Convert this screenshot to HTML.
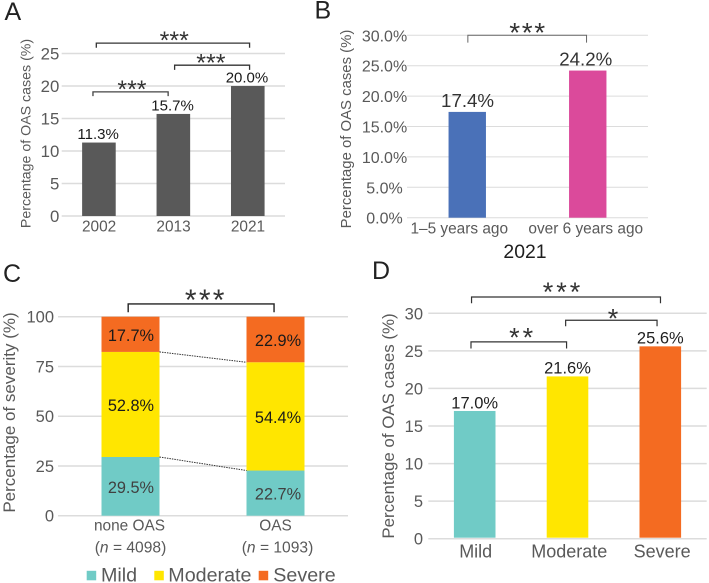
<!DOCTYPE html>
<html lang="en">
<head>
<meta charset="utf-8">
<title>OAS prevalence charts</title>
<style>
  html, body { margin: 0; padding: 0; background: #fff; }
  body { width: 709px; height: 583px; overflow: hidden; }
  svg { display: block; font-family: "Liberation Sans", Arial, sans-serif; filter: blur(0.3px); }
</style>
</head>
<body>
<svg id="fig" xmlns="http://www.w3.org/2000/svg" width="709" height="583" viewBox="0 0 709 583"></svg>
<script>
// Panel A data
const aCategories = ['2002', '2013', '2021'];
const aValues = [11.3, 15.7, 20.0];
const aTicks = [0, 5, 10, 15, 20, 25];

// Panel B data
const bCategories = ['1\u20135 years ago', 'over 6 years ago'];
const bValues = [17.4, 24.2];
const bTicks = [0, 5, 10, 15, 20, 25, 30];

// Panel C data
const cCategories = ['none OAS', 'OAS'];
const cSampleSizes = ['4098', '1093'];
const cMild = [29.5, 22.7];
const cModerate = [52.8, 54.4];
const cSevere = [17.7, 22.9];
const cTicks = [0, 25, 50, 75, 100];

// Panel D data
const dCategories = ['Mild', 'Moderate', 'Severe'];
const dValues = [17.0, 21.6, 25.6];
const dTicks = [0, 5, 10, 15, 20, 25, 30];

const TEAL = '#70cbc6', YELLOW = '#ffe600', ORANGE = '#f46b21';
const BLUE = '#4a71b8', PINK = '#db4a9b', GREY = '#595959';
const TICK = '#595959', INK = '#262626', GRID = '#dcdcdc';

const svg = document.getElementById('fig');
const NS = 'http://www.w3.org/2000/svg';

function mk(parent, tag, attrs, name, inter) {
  const el = document.createElementNS(NS, tag);
  for (const k in attrs) el.setAttribute(k, attrs[k]);
  
  
  parent.appendChild(el);
  return el;
}
function txt(parent, x, y, s, size, fill, anchor, name) {
  const t = mk(parent, 'text', { x: x, y: y, 'font-size': size, fill: fill, 'text-anchor': anchor || 'middle' }, name);
  t.textContent = s;
  return t;
}
function vtitle(parent, x, yc, s, size) {
  const t = mk(parent, 'text', { x: 0, y: 0, 'font-size': size, fill: TICK, 'text-anchor': 'middle',
    transform: 'translate(' + x + ',' + yc + ') rotate(-90)' }, 'y-axis-title');
  t.textContent = s;
}
// axis factory: linear y scale and band x scale
function makePanel(name, left, right, y0, yTop, maxVal, n) {
  const g = mk(svg, 'g', {}, name);
  const band = (right - left) / n;
  return {
    g: g,
    x: function (i) { return left + band * (i + 0.5); },
    y: function (v) { return y0 - (y0 - yTop) * v / maxVal; },
    left: left, right: right
  };
}
function grid(p, ticks, width) {
  ticks.forEach(function (t) {
    mk(p.g, 'line', { x1: p.left, x2: p.right, y1: p.y(t), y2: p.y(t), stroke: GRID, 'stroke-width': width }, 'gridline-' + t);
  });
}
function bracket(p, a, b, v, drop, stars, size, pitch, starDx, starDy, color, sw) {
  const xa = p.x(a), xb = p.x(b), y = p.y(v);
  mk(p.g, 'path', { d: 'M' + xa + ' ' + (y + drop) + 'V' + y + 'H' + xb + 'V' + (y + drop),
    fill: 'none', stroke: color, 'stroke-width': sw }, 'significance-bracket');
  const t = txt(p.g, (xa + xb) / 2 + starDx, y + starDy, stars, size, '#333', 'middle', 'significance-stars');
  t.setAttribute('letter-spacing', pitch);
}
function letter(x, y, s) {
  txt(svg, x, y, s, 25, '#222', 'start', 'panel-label-' + s.toLowerCase());
}

/* ---------- Panel A ---------- */
(function () {
  const p = makePanel('panel-a', 61.7, 285, 216, 53.5, 25, aCategories.length);
  grid(p, aTicks, 1.5);
  aTicks.forEach(function (t) { txt(p.g, 59.3, p.y(t) + 6, String(t), 16.8, TICK, 'end', 'y-tick-' + t); });
  aValues.forEach(function (v, i) {
    mk(p.g, 'rect', { x: p.x(i) - 16.8, y: p.y(v), width: 33.6, height: p.y(0) - p.y(v), fill: GREY }, 'bar-' + aCategories[i]);
    txt(p.g, p.x(i) - 0.8, p.y(v) - 3.4, v.toFixed(1) + '%', 15, '#1a1a1a', 'middle', 'value-label-' + aCategories[i]);
    txt(p.g, p.x(i) + 0.2, 231.7, aCategories[i], 15.4, TICK, 'middle', 'x-tick-' + aCategories[i]);
  });
  vtitle(p.g, 30.5, 133.5, 'Percentage of OAS cases (%)', 14.2);
  bracket(p, -0.035, 2.024, 26.6, 4.7, '***', 25, 0, 1.3, 6, '#333', 1.3);
  bracket(p, 1.017, 2.024, 23.2, 4.7, '***', 25, 0, -1.2, 6.5, '#333', 1.3);
  bracket(p, -0.08, 0.93, 19.1, 4.3, '***', 25, 0, 1.4, 6, '#444', 1.3);
  letter(4.5, 20, 'A');
})();

/* ---------- Panel B ---------- */
(function () {
  const colors = [BLUE, PINK];
  const p = makePanel('panel-b', 407, 648, 217.7, 35.3, 30, bCategories.length);
  grid(p, bTicks, 1);
  bTicks.forEach(function (t) { txt(p.g, 384.5, p.y(t) + 6, t.toFixed(1) + '%', 16, TICK, 'middle', 'y-tick-' + t); });
  bValues.forEach(function (v, i) {
    mk(p.g, 'rect', { x: p.x(i) - 18.7, y: p.y(v), width: 37.4, height: p.y(0) - p.y(v), fill: colors[i] }, 'bar-' + (i ? 'over-6-years' : '1-5-years'));
    txt(p.g, p.x(i) + (i ? -2 : 0.3), p.y(v) - 5, v.toFixed(1) + '%', 18.7, '#333', 'middle', 'value-label-' + i);
    txt(p.g, p.x(i) + (i ? -2 : -8), 233.3, bCategories[i], 15.4, TICK, 'middle', 'x-tick-' + i);
  });
  txt(p.g, 525, 258, '2021', 19.4, '#1f1f1f', 'middle', 'x-axis-title');
  vtitle(p.g, 351, 129, 'Percentage of OAS cases (%)', 14.9);
  bracket(p, 0.005, 0.99, 30, 7.3, '***', 28, 1.6, 0.8, 6.6, '#666', 1);
  letter(314.5, 18.5, 'B');
})();

/* ---------- Panel C ---------- */
(function () {
  const p = makePanel('panel-c', 58, 348, 515.7, 316.7, 100, cCategories.length);
  grid(p, cTicks, 1.5);
  cTicks.forEach(function (t) { txt(p.g, 54, p.y(t) + 6, String(t), 16.5, TICK, 'end', 'y-tick-' + t); });
  const w = 58;
  cCategories.forEach(function (c, i) {
    let base = 0;
    [[cMild, TEAL, 'mild', '#404040'], [cModerate, YELLOW, 'moderate', '#1a1a1a'], [cSevere, ORANGE, 'severe', '#1a1a1a']].forEach(function (s) {
      const v = s[0][i];
      mk(p.g, 'rect', { x: p.x(i) - w / 2, y: p.y(base + v), width: w, height: p.y(base) - p.y(base + v), fill: s[1] }, 'bar-' + c.replace(' ', '-').toLowerCase() + '-' + s[2]);
      txt(p.g, p.x(i) + (i ? 2.5 : 0.4), p.y(base + v / 2) + 6.5, v.toFixed(1) + '%', 16.3, s[3], 'middle', 'value-label-' + s[2] + '-' + i);
      base += v;
    });
    txt(p.g, p.x(i) - (i ? -0 : 1), 530.7, c, 15.4, TICK, 'middle', 'x-tick-' + i);
    const n = txt(p.g, p.x(i) - (i ? -2 : 0), 552.3, '', 15.6, TICK, 'middle', 'x-tick-sample-size-' + i);
    const a = document.createElementNS(NS, 'tspan');
    a.textContent = '(';
    
    
    const it = document.createElementNS(NS, 'tspan');
    it.textContent = 'n';
    it.setAttribute('font-style', 'italic');
    
    
    const r = document.createElementNS(NS, 'tspan');
    r.textContent = ' = ' + cSampleSizes[i] + ')';
    
    
    n.appendChild(a); n.appendChild(it); n.appendChild(r);
  });
  // dotted connectors between segment boundaries
  [cMild, cMild.map(function (v, i) { return v + cModerate[i]; })].forEach(function (tops, k) {
    mk(p.g, 'line', { x1: p.x(0) + w / 2, y1: p.y(tops[0]), x2: p.x(1) - w / 2, y2: p.y(tops[1]),
      stroke: '#333', 'stroke-width': 1, 'stroke-dasharray': '1.5 1' }, 'connector-' + k);
  });
  vtitle(p.g, 15, 412.5, 'Percentage of severity (%)', 17);
  bracket(p, -0.016, 0.99, 106.4, 8.3, '***', 30, 2.3, 4.7, 6, '#222', 1.4);
  letter(3, 282, 'C');
  // legend
  const lg = mk(p.g, 'g', {}, 'legend');
  [['Mild', TEAL, 86.7, 101], ['Moderate', YELLOW, 154.3, 168.3], ['Severe', ORANGE, 258.7, 273.3]].forEach(function (e) {
    const item = mk(lg, 'g', {}, 'legend-entry-' + e[0].toLowerCase());
    mk(item, 'rect', { x: e[2], y: 570.8, width: 9.5, height: 9.5, fill: e[1] }, 'legend-swatch');
    txt(item, e[3], 581.7, e[0], 19.7, TICK, 'start', 'legend-label');
  });
})();

/* ---------- Panel D ---------- */
(function () {
  const colors = [TEAL, YELLOW, ORANGE];
  const p = makePanel('panel-d', 428.3, 706.7, 538.7, 313.3, 30, dCategories.length);
  grid(p, dTicks, 1.5);
  dTicks.forEach(function (t) { txt(p.g, 423, p.y(t) + 6, String(t), 16.5, TICK, 'end', 'y-tick-' + t); });
  dValues.forEach(function (v, i) {
    mk(p.g, 'rect', { x: p.x(i) - 20.8, y: p.y(v), width: 41.6, height: p.y(0) - p.y(v) - 1, fill: colors[i] }, 'bar-' + dCategories[i].toLowerCase());
    txt(p.g, p.x(i), p.y(v) - 2.7, v.toFixed(1) + '%', 16.5, '#1f1f1f', 'middle', 'value-label-' + dCategories[i].toLowerCase());
    txt(p.g, p.x(i) + (i === 0 ? 1 : 1.8), 557.3, dCategories[i], 18, TICK, 'middle', 'x-tick-' + dCategories[i].toLowerCase());
  });
  vtitle(p.g, 394, 426, 'Percentage of OAS cases (%)', 16.9);
  bracket(p, -0.034, 2.002, 32.17, 6.3, '***', 27, 3, -3, 3.8, '#333', 1.2);
  bracket(p, 0.98, 1.965, 29.07, 6, '*', 27, 0, 1.7, 7.2, '#333', 1.2);
  bracket(p, -0.04, 0.99, 26.2, 6.7, '**', 27, 3, 3.8, 4.5, '#333', 1.2);
  letter(372, 279, 'D');
})();
</script>
</body>
</html>
